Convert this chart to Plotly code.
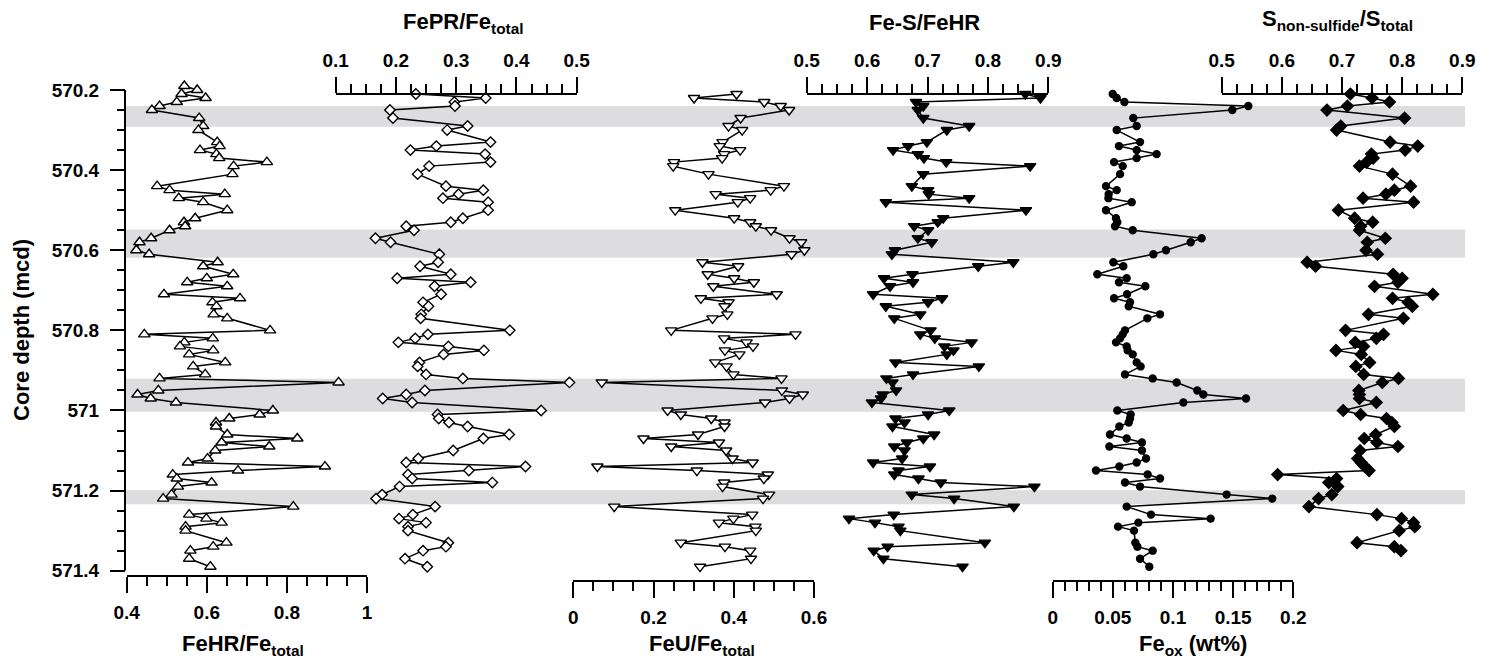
import plotly.graph_objects as go

# ---------------------------------------------------------------- data
# sample depths (m composite depth) shared by all six profiles
depth = [
    570.19, 570.20, 570.21, 570.22, 570.23, 570.24, 570.25, 570.27, 570.29, 570.30,
    570.33, 570.34, 570.35, 570.36, 570.37, 570.38, 570.39, 570.41, 570.44, 570.45,
    570.46, 570.47, 570.48, 570.50, 570.52, 570.53, 570.54, 570.55, 570.57, 570.58,
    570.60, 570.61, 570.63, 570.64, 570.66, 570.67, 570.68, 570.69, 570.71, 570.72,
    570.73, 570.74, 570.76, 570.77, 570.80, 570.81, 570.82, 570.83, 570.84, 570.85,
    570.86, 570.88, 570.89, 570.91, 570.92, 570.93, 570.95, 570.96, 570.97, 570.98,
    571.00, 571.01, 571.02, 571.03, 571.04, 571.06, 571.07, 571.08, 571.09, 571.10,
    571.12, 571.13, 571.14, 571.15, 571.16, 571.17, 571.18, 571.19, 571.21, 571.22,
    571.24, 571.26, 571.27, 571.28, 571.29, 571.30, 571.33, 571.34, 571.35, 571.37,
    571.39,
]

fehr_fet = [
    0.544, 0.576, 0.537, 0.597, 0.525, 0.482, 0.463, 0.581, 0.591, 0.579,
    0.626, 0.632, 0.583, 0.624, 0.631, 0.750, 0.667, 0.664, 0.476, 0.507,
    0.645, 0.530, 0.591, 0.651, 0.571, 0.543, 0.546, 0.507, 0.461, 0.432,
    0.424, 0.456, 0.627, 0.591, 0.666, 0.600, 0.551, 0.651, 0.493, 0.683,
    0.614, 0.624, 0.617, 0.651, 0.758, 0.444, 0.615, 0.544, 0.533, 0.616,
    0.556, 0.646, 0.566, 0.596, 0.482, 0.929, 0.479, 0.427, 0.460, 0.523,
    0.765, 0.732, 0.656, 0.623, 0.623, 0.651, 0.826, 0.637, 0.756, 0.621,
    0.602, 0.553, 0.895, 0.678, 0.515, 0.525, 0.612, 0.528, 0.512, 0.491,
    0.816, 0.556, 0.599, 0.637, 0.547, 0.547, 0.649, 0.616, 0.559, 0.556,
    0.609,
]

fepr_fet = [
    None, None, 0.233, 0.349, 0.297, 0.298, 0.190, 0.195, 0.319, 0.285,
    0.357, 0.267, 0.224, 0.348, None, 0.357, 0.255, 0.236, 0.283, 0.345,
    0.304, 0.278, 0.353, 0.353, 0.311, 0.291, 0.217, 0.230, 0.166, 0.191,
    None, 0.272, 0.270, 0.240, 0.291, 0.202, 0.324, 0.264, 0.275, None,
    0.245, 0.254, 0.242, 0.241, 0.389, 0.253, 0.232, 0.204, 0.287, 0.346,
    0.279, 0.239, 0.236, 0.250, 0.311, 0.488, 0.248, 0.217, 0.178, 0.227,
    0.441, 0.269, 0.271, 0.288, 0.319, 0.388, 0.345, None, None, 0.295,
    0.237, 0.217, 0.415, 0.321, 0.220, 0.227, 0.360, 0.206, 0.177, 0.167,
    0.265, 0.228, 0.205, 0.250, 0.220, 0.220, 0.287, 0.283, 0.245, 0.215,
    0.252,
]

feu_fet = [
    None, None, 0.407, 0.301, 0.476, 0.517, 0.538, 0.417, 0.387, 0.421,
    0.372, 0.365, 0.416, 0.376, 0.371, 0.251, 0.249, 0.337, 0.525, 0.492,
    0.355, 0.441, 0.410, 0.254, 0.401, 0.441, 0.455, 0.493, 0.539, 0.568,
    0.576, 0.544, 0.322, 0.411, 0.335, 0.401, 0.450, 0.349, 0.507, 0.318,
    0.387, 0.377, 0.384, 0.347, 0.244, 0.554, 0.376, 0.432, 0.448, 0.378,
    0.414, 0.354, 0.382, 0.399, 0.519, 0.071, 0.520, 0.572, 0.539, 0.478,
    0.235, 0.268, 0.344, 0.377, 0.377, 0.311, 0.175, 0.363, 0.244, 0.381,
    0.397, 0.447, 0.060, 0.308, 0.485, 0.475, 0.376, 0.372, 0.488, 0.473,
    0.102, 0.446, 0.399, 0.363, 0.454, 0.455, 0.268, 0.378, 0.441, 0.443,
    0.316,
]

fes_fehr = [
    None, None, 0.862, 0.887, 0.681, 0.693, 0.684, 0.693, 0.769, 0.732,
    0.699, 0.668, 0.643, 0.684, 0.694, 0.731, 0.870, 0.693, 0.674, 0.701,
    0.702, 0.769, 0.631, 0.863, 0.726, 0.717, 0.678, 0.701, 0.684, 0.707,
    0.646, 0.641, 0.842, 0.784, 0.675, 0.628, 0.676, 0.638, 0.610, 0.724,
    0.701, 0.631, 0.688, 0.645, 0.705, 0.688, 0.712, 0.773, 0.728, 0.743,
    0.732, 0.647, 0.785, 0.676, 0.632, 0.642, 0.648, 0.626, 0.623, 0.608,
    0.736, 0.701, 0.647, 0.662, 0.642, 0.711, 0.693, 0.666, 0.645, 0.662,
    0.658, 0.610, 0.704, 0.652, 0.645, 0.685, 0.722, 0.877, 0.674, 0.744,
    0.843, 0.644, 0.570, 0.613, 0.652, 0.655, 0.795, 0.634, 0.611, 0.627,
    0.758,
]

fe_ox = [
    None, None, 0.0499, 0.0532, 0.0596, 0.1626, 0.1493, 0.0670, 0.0698, 0.0532,
    0.0726, 0.0551, 0.0698, 0.0864, 0.0698, 0.0510, 0.0582, 0.0560, 0.0443, 0.0532,
    0.0465, 0.0463, 0.0657, 0.0443, 0.0526, 0.0537, 0.0518, 0.0665, 0.1238, 0.1147,
    0.0942, 0.0837, 0.0504, 0.0587, 0.0371, 0.0615, 0.0551, 0.0770, 0.0618, 0.0510,
    0.0643, 0.0632, 0.0892, 0.0787, 0.0601, 0.0582, 0.0560, 0.0526, 0.0615, 0.0623,
    0.0665, 0.0698, 0.0731, 0.0601, 0.0831, 0.1030, 0.1202, 0.1252, 0.1607, 0.1086,
    0.0537, 0.0648, 0.0643, 0.0632, 0.0554, 0.0476, 0.0615, 0.0742, 0.0471, 0.0742,
    0.0776, 0.0698, 0.0554, 0.0360, 0.0789, 0.0892, 0.0601, 0.0726, 0.1446, 0.1825,
    0.0615, 0.0817, 0.1313, 0.0712, 0.0543, 0.0676, 0.0687, 0.0704, 0.0831, 0.0726,
    0.0803,
]

s_nonsulf_stot = [
    None, None, 0.714, 0.750, 0.779, 0.709, 0.675, 0.804, 0.698, 0.691,
    0.780, 0.826, 0.805, 0.749, 0.752, 0.741, 0.729, 0.784, 0.814, 0.787,
    0.773, 0.735, 0.819, 0.694, 0.721, 0.751, 0.731, 0.729, 0.772, 0.742,
    0.740, 0.759, 0.642, 0.656, 0.785, 0.800, 0.793, 0.754, 0.851, 0.784,
    0.810, 0.817, 0.744, 0.802, 0.706, 0.769, 0.757, 0.722, 0.736, 0.690,
    0.732, 0.746, 0.723, 0.736, 0.794, 0.767, 0.728, 0.729, 0.729, 0.757,
    0.702, 0.731, 0.774, 0.783, 0.787, 0.756, 0.737, 0.758, 0.793, 0.730,
    0.726, 0.732, 0.738, 0.745, 0.593, 0.691, 0.678, 0.693, 0.683, 0.661,
    0.645, 0.758, 0.799, 0.819, 0.821, 0.795, 0.725, 0.787, 0.798, None,
    None,
]

# shaded depth intervals (top, bottom)
band_top = [570.240, 570.548, 570.921, 571.199]
band_bottom = [570.292, 570.619, 571.003, 571.234]

# tick values / labels
depth_ticks = [570.2, 570.4, 570.6, 570.8, 571.0, 571.2, 571.4]
depth_labels = ["570.2", "570.4", "570.6", "570.8", "571", "571.2", "571.4"]
fehr_ticks = [0.4, 0.6, 0.8, 1.0]
fehr_labels = ["0.4", "0.6", "0.8", "1"]
ratio_ticks_low = [0.1, 0.2, 0.3, 0.4, 0.5]
ratio_labels_low = ["0.1", "0.2", "0.3", "0.4", "0.5"]
feu_ticks = [0.0, 0.2, 0.4, 0.6]
feu_labels = ["0", "0.2", "0.4", "0.6"]
ratio_ticks_high = [0.5, 0.6, 0.7, 0.8, 0.9]
ratio_labels_high = ["0.5", "0.6", "0.7", "0.8", "0.9"]
feox_ticks = [0.0, 0.05, 0.1, 0.15, 0.2]
feox_labels = ["0", "0.05", "0.1", "0.15", "0.2"]

# ---------------------------------------------------------------- layout helpers
W, H = 1491, 659
LEFT, RIGHT, TOP, BOTTOM = 125, 1465, 82, 581   # paper frame in pixels
FONT = "Arial, 'Liberation Sans', Helvetica, sans-serif"


def px_x(px):
    return (px - LEFT) / (RIGHT - LEFT)


def px_y(py):
    return (BOTTOM - py) / (BOTTOM - TOP)


tick_font = dict(family=FONT, size=19, color="black", weight="bold")


def x_axis(dom_px, rng, side, pos_py, tickvals, ticktext, minor_dtick):
    return dict(
        domain=[px_x(dom_px[0]), px_x(dom_px[1])],
        range=rng,
        side=side,
        anchor="free",
        position=px_y(pos_py),
        showgrid=False,
        zeroline=False,
        showline=True,
        linecolor="black",
        linewidth=2,
        ticks="outside",
        ticklen=16,
        tickwidth=2,
        tickcolor="black",
        tickmode="array",
        tickvals=tickvals,
        ticktext=ticktext,
        tickfont=tick_font,
        ticklabelstandoff=3,
        minor=dict(ticks="outside", ticklen=9, tickwidth=2, tickcolor="black",
                   tickmode="linear", tick0=rng[0], dtick=minor_dtick, showgrid=False),
        automargin=False,
        fixedrange=True,
    )


fig = go.Figure()

profiles = [
    ("x", fehr_fet, "triangle-up", "white", 10),
    ("x2", fepr_fet, "diamond", "white", 8),
    ("x3", feu_fet, "triangle-down", "white", 10),
    ("x4", fes_fehr, "triangle-down", "black", 10),
    ("x5", fe_ox, "circle", "black", 7),
    ("x6", s_nonsulf_stot, "diamond", "black", 9),
]
for axis, values, symbol, fill, size in profiles:
    fig.add_trace(go.Scatter(
        x=values, y=depth, xaxis=axis, yaxis="y",
        mode="lines+markers", connectgaps=True, cliponaxis=False,
        line=dict(color="black", width=1.5),
        marker=dict(symbol=symbol, size=size, color=fill,
                    line=dict(color="black", width=1.4)),
        showlegend=False, hoverinfo="skip",
    ))

# shaded intervals across all panels
for y0, y1 in zip(band_top, band_bottom):
    fig.add_shape(type="rect", xref="paper", yref="y", x0=0, x1=1, y0=y0, y1=y1,
                  fillcolor="rgb(221,221,223)", line=dict(width=0), layer="below")

# depth axis line (only over the labelled interval)
fig.add_shape(type="line", xref="paper", yref="y", x0=0, x1=0,
              y0=depth_ticks[0], y1=depth_ticks[-1],
              line=dict(color="black", width=2), layer="above")

fig.update_layout(
    width=W, height=H,
    margin=dict(l=LEFT, r=W - RIGHT, t=TOP, b=H - BOTTOM, pad=0),
    paper_bgcolor="white", plot_bgcolor="rgba(0,0,0,0)",
    template="none",
    showlegend=False,
    font=dict(family=FONT, color="black"),
    yaxis=dict(
        domain=[px_y(570.7), 1.0],
        range=[571.4, 570.18],
        anchor="free", position=0,
        showgrid=False, zeroline=False, showline=False,
        ticks="outside", ticklen=15, tickwidth=2, tickcolor="black",
        tickmode="array", tickvals=depth_ticks, ticktext=depth_labels,
        tickfont=tick_font, ticklabelstandoff=7,
        minor=dict(ticks="outside", ticklen=8, tickwidth=2, tickcolor="black",
                   tickmode="linear", tick0=570.2, dtick=0.05, showgrid=False),
        automargin=False, fixedrange=True,
    ),
    xaxis=x_axis((126.7, 367.0), [0.4, 1.0], "bottom", 576, fehr_ticks, fehr_labels, 0.05),
    xaxis2=x_axis((335.7, 576.7), [0.1, 0.5], "top", 94.3, ratio_ticks_low, ratio_labels_low, 0.025),
    xaxis3=x_axis((573.3, 814.0), [0.0, 0.6], "bottom", 581, feu_ticks, feu_labels, 0.05),
    xaxis4=x_axis((806.7, 1048.3), [0.5, 0.9], "top", 94.3, ratio_ticks_high, ratio_labels_high, 0.025),
    xaxis5=x_axis((1052.7, 1293.3), [0.0, 0.2], "bottom", 581, feox_ticks, feox_labels, 0.01),
    xaxis6=x_axis((1221.7, 1462.3), [0.5, 0.9], "top", 94.3, ratio_ticks_high, ratio_labels_high, 0.025),
)

title_font = dict(family=FONT, size=22, color="black")
titles = [
    ("<b>FeHR/Fe<sub>total</sub></b>", 242.5, 645, 0),
    ("<b>FePR/Fe<sub>total</sub></b>", 464, 23, 0),
    ("<b>FeU/Fe<sub>total</sub></b>", 702, 645, 0),
    ("<b>Fe-S/FeHR</b>", 924, 22, 0),
    ("<b>Fe<sub>ox</sub> (wt%)</b>", 1193, 645, 0),
    ("<b>S<sub>non-sulfide</sub>/S<sub>total</sub></b>", 1337, 20, 0),
    ("<b>Core depth (mcd)</b>", 21, 330, -90),
]
for text, xpx, ypx, angle in titles:
    fig.add_annotation(text=text, xref="paper", yref="paper",
                       x=px_x(xpx), y=px_y(ypx), xanchor="center", yanchor="middle",
                       showarrow=False, textangle=angle, font=title_font)

fig.write_html("out.html")
